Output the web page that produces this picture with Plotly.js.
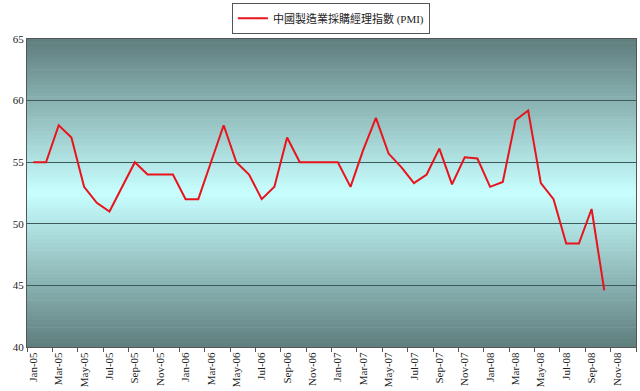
<!DOCTYPE html>
<html>
<head>
<meta charset="utf-8">
<script src="https://cdn.plot.ly/plotly-3.0.1.min.js"></script>
<style>html,body{margin:0;padding:0;background:#fff;}#chart{width:640px;height:391px;}</style>
</head>
<body>
<div id="chart"></div>
<script>
var months = ["Jan","Feb","Mar","Apr","May","Jun","Jul","Aug","Sep","Oct","Nov","Dec"];
var years = ["05","06","07","08"];
var categories = [];
years.forEach(function(y){ months.forEach(function(m){ categories.push(m + "-" + y); }); });

var seriesName = "中國製造業採購經理指數 (PMI)";
var pmi = [
  55.0, 55.0, 58.0, 57.0, 53.0, 51.7, 51.0, 53.0, 55.0, 54.0, 54.0, 54.0,
  52.0, 52.0, 55.0, 58.0, 55.0, 54.0, 52.0, 53.0, 57.0, 55.0, 55.0, 55.0,
  55.0, 53.0, 56.0, 58.6, 55.7, 54.6, 53.3, 54.0, 56.1, 53.2, 55.4, 55.3,
  53.0, 53.4, 58.4, 59.2, 53.3, 52.0, 48.4, 48.4, 51.2, 44.6
];
var yTicks = [40, 45, 50, 55, 60, 65];

// gradient background bands (dark teal at edges, light cyan at centre)
var edge = [95, 125, 125], mid = [200, 255, 255];
var shapes = [];
var N = 80;
for (var i = 0; i < N; i++) {
  var t0 = i / N, t1 = (i + 1) / N, tc = (t0 + t1) / 2;
  var f = 1 - Math.abs(tc - 0.5) * 2; // 0 at edges, 1 centre
  var c = edge.map(function(e, k){ return Math.round(e + (mid[k] - e) * f); });
  shapes.push({type:"rect", xref:"x domain", yref:"y domain", x0:0, x1:1, y0:t0, y1:t1 + 0.002,
    fillcolor:"rgb(" + c.join(",") + ")", line:{width:0}, layer:"below"});
}

var trace = {
  x: categories.slice(0, pmi.length),
  y: pmi,
  type: "scatter",
  mode: "lines",
  name: seriesName,
  line: {color: "#e8141c", width: 2},
  showlegend: true
};

var fontFam = "'Liberation Serif', 'Noto Sans CJK TC', serif";
var layout = {
  width: 640, height: 391,
  margin: {l: 27, r: 4, t: 39, b: 44},
  paper_bgcolor: "#ffffff",
  plot_bgcolor: "rgba(0,0,0,0)",
  font: {family: fontFam, size: 11, color: "#222"},
  showlegend: true,
  legend: {
    x: 0.517, xanchor: "center", xref: "container",
    y: 0.993, yanchor: "top", yref: "container",
    orientation: "h",
    bordercolor: "#555", borderwidth: 1, bgcolor: "#fff",
    itemwidth: 30,
    font: {family: fontFam, size: 11, color: "#222"}
  },
  xaxis: {
    type: "category",
    categoryorder: "array",
    categoryarray: categories,
    range: [-0.5, categories.length - 0.5],
    tickmode: "linear", tick0: 0, dtick: 2,
    tickson: "boundaries",
    ticks: "outside", ticklen: 4, tickcolor: "#555",
    tickangle: -90,
    tickfont: {size: 11, color: "#222"},
    showgrid: false,
    showline: true, linecolor: "#555", linewidth: 1, mirror: true,
    zeroline: false
  },
  yaxis: {
    range: [40, 65],
    tickmode: "array", tickvals: yTicks,
    ticks: "", ticklen: 0,
    tickfont: {size: 11, color: "#222"},
    showgrid: true, gridcolor: "#3c5a5a", gridwidth: 1,
    showline: true, linecolor: "#555", linewidth: 1, mirror: true,
    zeroline: false
  },
  shapes: shapes
};

Plotly.newPlot("chart", [trace], layout, {displayModeBar: false, staticPlot: true});
</script>
</body>
</html>
